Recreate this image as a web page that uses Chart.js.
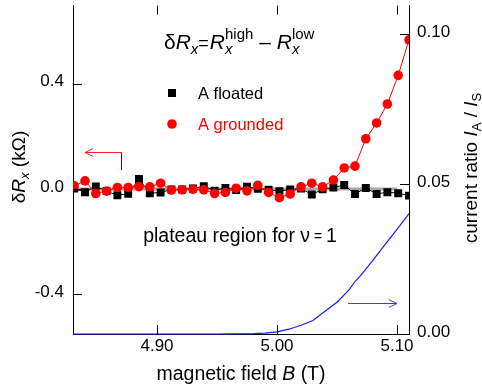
<!DOCTYPE html>
<html>
<head>
<meta charset="utf-8">
<script src="https://cdn.jsdelivr.net/npm/chart.js@4.4.1/dist/chart.umd.min.js"></script>
<style>
  html, body { margin: 0; padding: 0; background: #fff; }
  canvas { display: block; }
</style>
</head>
<body>
<canvas id="chart" width="482" height="391"></canvas>
<script>
// magnetic field of each measured point (T)
const fieldT = [4.831, 4.840, 4.849, 4.858, 4.867, 4.876, 4.885, 4.894, 4.903, 4.912, 4.921, 4.930,
  4.939, 4.948, 4.957, 4.966, 4.975, 4.984, 4.993, 5.002, 5.011, 5.020, 5.029, 5.038,
  5.047, 5.056, 5.065, 5.074, 5.083, 5.092, 5.101, 5.110];
// delta R_x (kOhm), contact A floated
const floatedK = [0.002, -0.012, 0.010, -0.008, -0.024, -0.018, 0.038, -0.016, -0.013, -0.002, -0.002, 0.002,
  0.011, -0.006, 0.004, -0.004, 0.009, 0.001, -0.003, -0.008, -0.002, 0.002, -0.021, -0.001,
  0.006, 0.015, -0.019, 0.004, -0.019, -0.012, -0.016, -0.025];
// delta R_x (kOhm), contact A grounded
const groundedK = [0.012, 0.031, -0.017, -0.008, 0.006, 0.006, 0.009, 0.008, 0.022, -0.004, -0.003, -0.001,
  -0.003, -0.017, -0.013, 0.003, -0.007, 0.014, -0.013, -0.033, -0.019, 0.008, 0.022, 0.008,
  0.034, 0.080, 0.087, 0.191, 0.251, 0.323, 0.432, 0.567];
// current ratio I_A / I_S (right axis)
const ratioField = [4.83, 4.90, 4.95, 4.98, 4.99, 5.00, 5.01, 5.02, 5.03, 5.04, 5.05, 5.06, 5.065, 5.07, 5.08, 5.09, 5.10, 5.11];
const ratioValues = [0, 0, 0, 0.0001, 0.0003, 0.0007, 0.0016, 0.0029, 0.0045, 0.0076, 0.0106, 0.0147, 0.0175, 0.0196, 0.0246, 0.0298, 0.0349, 0.0401];
// zero reference line
const zeroField = [4.83, 5.10];
const zeroValues = [0, 0];

const xTicks = [4.90, 5.00, 5.10];
const xTickLabels = ['4.90', '5.00', '5.10'];
const leftTicks = [-0.4, 0.0, 0.4];
const leftTickLabels = ['-0.4', '0.0', '0.4'];
const rightTicks = [0.00, 0.05, 0.10];
const rightTickLabels = ['0.00', '0.05', '0.10'];

const FONT = '"Liberation Sans", Arial, Helvetica, sans-serif';

const toXY = (xs, ys) => xs.map((x, i) => ({ x, y: ys[i] }));

function setFont(ctx, p) {
  ctx.font = `${p.i ? 'italic ' : ''}${p.s}px ${FONT}`;
}

// runs of text with italics / sub / superscripts; p.stay keeps the pen position
function measureRuns(ctx, parts) {
  let w = 0, hold = 0;
  parts.forEach(p => {
    setFont(ctx, p);
    const pw = ctx.measureText(p.t).width;
    if (p.stay) { hold = pw; return; }
    w += Math.max(pw, hold) + (p.gap || 0);
    hold = 0;
  });
  return w;
}

function drawRuns(ctx, parts, x, y) {
  let cx = x, hold = 0;
  parts.forEach(p => {
    setFont(ctx, p);
    ctx.fillText(p.t, cx, y + (p.dy || 0));
    const pw = ctx.measureText(p.t).width;
    if (p.stay) { hold = pw; return; }
    cx += Math.max(pw, hold) + (p.gap || 0);
    hold = 0;
  });
}

function drawCentered(ctx, parts, cx, y) {
  drawRuns(ctx, parts, cx - measureRuns(ctx, parts) / 2, y);
}

function drawRotated(ctx, parts, cx, cy) {
  ctx.save();
  ctx.translate(cx, cy);
  ctx.rotate(-Math.PI / 2);
  drawCentered(ctx, parts, 0, 0);
  ctx.restore();
}

function arrow(ctx, x1, y1, x2, y2, color) {
  const ang = Math.atan2(y2 - y1, x2 - x1);
  ctx.strokeStyle = color;
  ctx.lineWidth = 1;
  ctx.beginPath();
  ctx.moveTo(x1, y1);
  ctx.lineTo(x2, y2);
  ctx.moveTo(x2 - 9 * Math.cos(ang - 0.45), y2 - 9 * Math.sin(ang - 0.45));
  ctx.lineTo(x2, y2);
  ctx.lineTo(x2 - 9 * Math.cos(ang + 0.45), y2 - 9 * Math.sin(ang + 0.45));
  ctx.stroke();
}

const decorations = {
  id: 'decorations',
  afterDraw(chart) {
    const { ctx, chartArea: a, scales: { x, y, y2 } } = chart;
    ctx.save();

    // inward tick marks
    ctx.strokeStyle = '#000';
    ctx.lineWidth = 1;
    ctx.beginPath();
    xTicks.forEach(v => {
      const px = Math.round(x.getPixelForValue(v)) + 0.5;
      ctx.moveTo(px, a.bottom); ctx.lineTo(px, a.bottom - 9);
      ctx.moveTo(px, a.top); ctx.lineTo(px, a.top + 9);
    });
    leftTicks.forEach(v => {
      const py = Math.round(y.getPixelForValue(v)) + 0.5;
      ctx.moveTo(a.left, py); ctx.lineTo(a.left + 9, py);
    });
    rightTicks.forEach(v => {
      const py = Math.round(y2.getPixelForValue(v)) + 0.5;
      ctx.moveTo(a.right, py); ctx.lineTo(a.right - 9, py);
    });
    ctx.stroke();

    ctx.textBaseline = 'alphabetic';
    ctx.textAlign = 'left';
    ctx.fillStyle = '#000';

    // axis titles
    drawRotated(ctx, [
      { t: 'δ', s: 19 }, { t: 'R', s: 19, i: true }, { t: 'x', s: 13, i: true, dy: 4 }, { t: ' (kΩ)', s: 19 }
    ], 25, 167);
    drawRotated(ctx, [
      { t: 'current ratio ', s: 19 }, { t: 'I', s: 19, i: true }, { t: 'A', s: 13, dy: 4 },
      { t: ' / ', s: 19 }, { t: 'I', s: 19, i: true }, { t: 'S', s: 13, dy: 4 }
    ], 477, 168);
    drawCentered(ctx, [
      { t: 'magnetic field ', s: 19.5 }, { t: 'B', s: 19.5, i: true }, { t: ' (T)', s: 19.5 }
    ], 241, 380);

    // formula
    drawRuns(ctx, [
      { t: 'δ', s: 21 }, { t: 'R', s: 21, i: true }, { t: 'x', s: 15, i: true, dy: 5 },
      { t: '=', s: 18, gap: 1 }, { t: 'R', s: 21, i: true },
      { t: 'high', s: 15, dy: -10, stay: true }, { t: 'x', s: 15, i: true, dy: 5 },
      { t: ' – ', s: 21 }, { t: 'R', s: 21, i: true },
      { t: 'low', s: 15, dy: -10, stay: true }, { t: 'x', s: 15, i: true, dy: 5 }
    ], 164, 49);

    // legend
    ctx.fillStyle = '#000';
    ctx.fillRect(168, 89, 8, 8);
    setFont(ctx, { s: 16.5 });
    ctx.fillText('A floated', 198, 99);
    ctx.fillStyle = '#ff0000';
    ctx.beginPath();
    ctx.arc(172, 124, 4.8, 0, Math.PI * 2);
    ctx.fill();
    ctx.fillText('A grounded', 198, 130);

    // plateau note
    ctx.fillStyle = '#000';
    drawCentered(ctx, [
      { t: 'plateau region for ', s: 19.5 }, { t: 'ν', s: 19.5 }, { t: ' = ', s: 14, dy: -1 }, { t: '1', s: 19.5 }
    ], 240, 242);

    // axis arrows
    arrow(ctx, 121.5, 152.5, 85, 152.5, '#ff2020');
    ctx.strokeStyle = '#800000';
    ctx.beginPath();
    ctx.moveTo(121.5, 152.5); ctx.lineTo(121.5, 170);
    ctx.stroke();
    arrow(ctx, 348, 303.5, 397, 303.5, '#3a3aff');

    ctx.restore();
  }
};

function fitBox(size, horizontal) {
  return s => {
    if (horizontal) s.height = size; else s.width = size;
    s.paddingTop = 0; s.paddingBottom = 0; s.paddingLeft = 0; s.paddingRight = 0;
  };
}

const tickFont = { family: FONT, size: 17 };
const noGrid = { display: false, drawTicks: false, tickLength: 0 };

new Chart(document.getElementById('chart').getContext('2d'), {
  type: 'scatter',
  data: {
    datasets: [
      {
        label: 'A grounded',
        data: toXY(fieldT, groundedK),
        yAxisID: 'y',
        showLine: true,
        borderColor: '#ff0000',
        backgroundColor: '#ff0000',
        borderWidth: 1,
        pointStyle: 'circle',
        pointRadius: 4.8,
        pointBorderWidth: 0,
        order: 1
      },
      {
        label: 'A floated',
        data: toXY(fieldT, floatedK),
        yAxisID: 'y',
        showLine: true,
        borderColor: '#000',
        backgroundColor: '#000',
        borderWidth: 1,
        pointStyle: 'rect',
        pointRadius: 5.6,
        pointBorderWidth: 0,
        order: 2
      },
      {
        label: 'current ratio',
        data: toXY(ratioField, ratioValues),
        yAxisID: 'y2',
        showLine: true,
        borderColor: '#1a1aff',
        borderWidth: 1.2,
        pointRadius: 0,
        clip: 3,
        order: 3
      },
      {
        label: 'zero',
        data: toXY(zeroField, zeroValues),
        yAxisID: 'y',
        showLine: true,
        borderColor: '#a8a8a8',
        borderWidth: 3,
        pointRadius: 0,
        order: 4
      }
    ]
  },
  options: {
    responsive: false,
    animation: false,
    events: [],
    layout: { padding: 0 },
    plugins: { legend: { display: false }, tooltip: { enabled: false } },
    scales: {
      x: {
        type: 'linear',
        position: 'bottom',
        min: 4.83,
        max: 5.11,
        afterFit: fitBox(57, true),
        afterBuildTicks: s => { s.ticks = xTicks.map(v => ({ value: v })); },
        grid: noGrid,
        border: { display: true, color: '#000', width: 1 },
        ticks: { color: '#000', font: tickFont, padding: 2, maxRotation: 0,
          callback: (v, i) => xTickLabels[i] }
      },
      y: {
        type: 'linear',
        position: 'left',
        min: -0.551,
        max: 0.697,
        afterFit: fitBox(73, false),
        afterBuildTicks: s => { s.ticks = leftTicks.map(v => ({ value: v })); },
        grid: noGrid,
        border: { display: true, color: '#000', width: 1 },
        ticks: { color: '#000', font: tickFont, padding: 9, labelOffset: -2,
          callback: (v, i) => leftTickLabels[i] }
      },
      y2: {
        type: 'linear',
        position: 'right',
        min: 0,
        max: 0.1095,
        afterFit: fitBox(73, false),
        afterBuildTicks: s => { s.ticks = rightTicks.map(v => ({ value: v })); },
        grid: noGrid,
        border: { display: true, color: '#000', width: 1 },
        ticks: { color: '#000', font: tickFont, padding: 8, labelOffset: -2,
          callback: (v, i) => rightTickLabels[i] }
      }
    }
  },
  plugins: [decorations]
});
</script>
</body>
</html>
